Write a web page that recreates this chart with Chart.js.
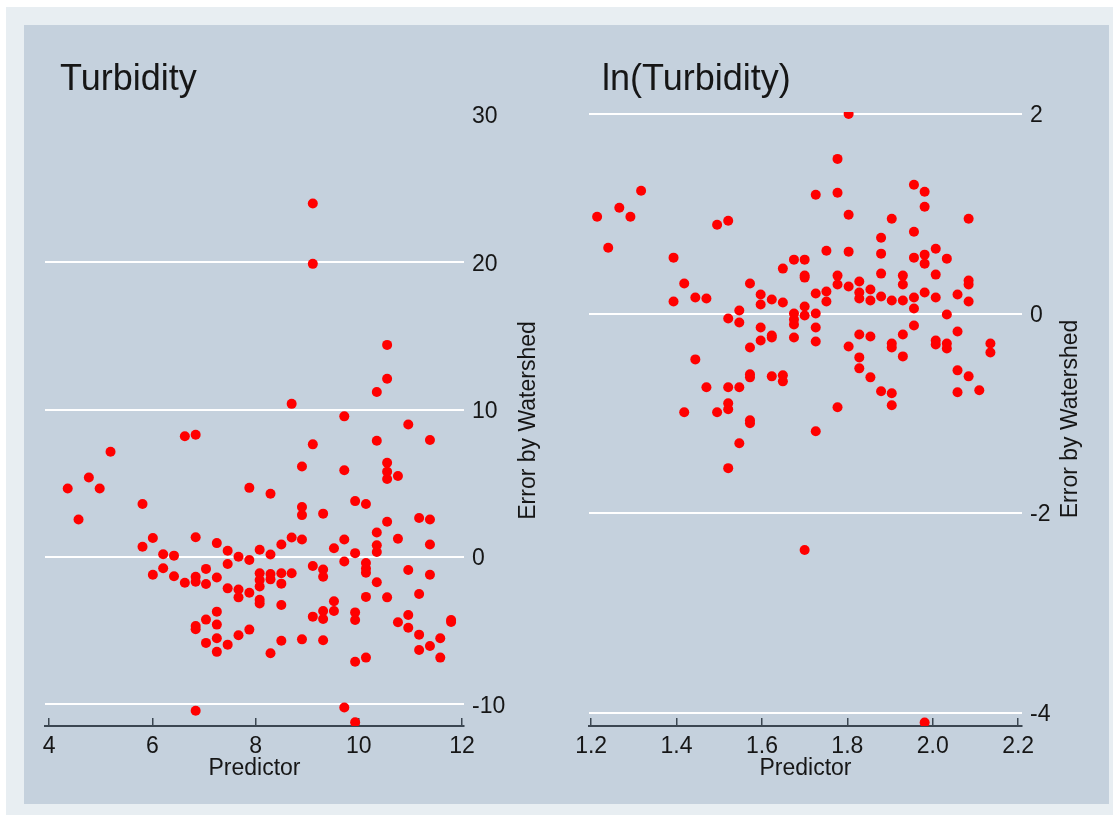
<!DOCTYPE html>
<html>
<head>
<meta charset="utf-8">
<script src="https://cdn.jsdelivr.net/npm/chart.js@4.4.1/dist/chart.umd.min.js"></script>
<style>
  html, body { margin: 0; padding: 0; background: #ffffff; }
  #frame { position: absolute; left: 6px; top: 7px; width: 1107px; height: 808px; background: #e8eef2; }
  #panel { position: absolute; left: 24px; top: 25px; width: 1085px; height: 779px; background: #c5d1dd; }
  canvas { position: absolute; top: 25px; }
  #turbidity { left: 24px; }
  #lnTurbidity { left: 560px; }
</style>
</head>
<body>
<div id="frame"></div>
<div id="panel"></div>
<canvas id="turbidity" width="536" height="779"></canvas>
<canvas id="lnTurbidity" width="548" height="779"></canvas>
<script>
// residuals for raw turbidity
var turbX = [
  8.70, 9.72, 10.96, 6.63, 6.84, 9.11, 10.35, 11.38, 5.19, 8.90,
  9.72, 10.55, 10.55, 10.55, 10.76, 4.77, 4.36, 4.98, 7.88, 8.29,
  5.81, 9.93, 10.14, 8.90, 8.90, 9.31, 4.57, 11.17, 11.38, 10.55,
  9.11, 9.11, 10.55, 10.55, 10.35, 6.01, 5.81, 6.84, 7.25, 7.46,
  6.21, 6.42, 7.67, 7.88, 8.08, 8.29, 8.50, 8.70, 8.90, 9.52,
  9.72, 9.93, 9.72, 10.35, 10.35, 10.35, 10.76, 11.38, 10.14, 10.14,
  10.14, 10.35, 10.96, 11.38, 9.11, 9.31, 9.31, 7.46, 7.04, 7.25,
  6.21, 6.01, 6.42, 6.63, 6.84, 6.84, 7.04, 7.46, 7.67, 7.67,
  7.88, 8.08, 8.08, 8.08, 8.29, 8.29, 8.50, 8.50, 8.70, 8.08,
  8.08, 8.50, 9.52, 10.14, 10.55, 11.17, 7.25, 7.04, 6.84, 6.84,
  7.25, 7.88, 7.67, 7.25, 7.04, 7.46, 7.25, 8.29, 8.50, 8.90,
  9.31, 9.11, 9.31, 9.31, 9.52, 9.93, 9.93, 10.76, 10.96, 10.96,
  11.17, 11.38, 11.17, 11.58, 11.58, 11.79, 11.79, 9.93, 10.14, 6.84,
  9.72, 9.93
];
var turbY = [
  10.4, 9.55, 9.0, 8.2, 8.3, 7.65, 7.9, 7.95, 7.15, 6.15,
  5.9, 6.4, 5.8, 5.3, 5.5, 5.4, 4.65, 4.65, 4.7, 4.3,
  3.6, 3.8, 3.6, 3.4, 2.85, 2.95, 2.55, 2.65, 2.55, 2.4,
  24.0, 19.9, 14.4, 12.1, 11.2, 1.3, 0.7, 1.35, 0.95, 0.43,
  0.2, 0.1, 0.02, -0.2, 0.5, 0.18, 0.85, 1.33, 1.2, 0.6,
  1.2, 0.27, -0.3, 1.67, 0.8, 0.35, 1.25, 0.86, -0.4, -0.77,
  -1.06, -1.7, -0.88, -1.2, -0.6, -0.84, -1.33, -0.47, -0.8, -1.38,
  -0.75, -1.2, -1.3, -1.74, -1.33, -1.67, -1.83, -2.12, -2.2, -2.73,
  -2.42, -1.1, -1.56, -2.0, -1.15, -1.51, -1.1, -1.8, -1.1, -2.9,
  -3.14, -3.25, -3.0, -2.7, -2.73, -2.5, -3.7, -4.24, -4.67, -4.9,
  -4.58, -4.92, -5.3, -5.5, -5.82, -5.94, -6.43, -6.52, -5.67, -5.58,
  -5.64, -4.04, -3.66, -4.2, -3.66, -3.75, -4.27, -4.42, -3.93, -4.79,
  -5.26, -6.03, -6.3, -5.5, -6.82, -4.27, -4.4, -7.1, -6.82, -10.43,
  -10.2, -11.2
];

// residuals for log turbidity
var lnX = [
  1.803, 1.777, 1.317, 1.266, 1.214, 1.292, 1.240, 1.495, 1.521, 1.726,
  1.777, 1.803, 1.956, 1.981, 1.981, 1.904, 2.084, 1.956, 1.879, 1.393,
  1.751, 1.803, 1.879, 2.007, 1.981, 1.981, 1.956, 2.033, 1.649, 1.675,
  1.700, 1.700, 1.700, 1.418, 1.572, 1.393, 1.444, 1.470, 1.597, 1.597,
  1.623, 1.649, 1.726, 1.751, 1.751, 1.777, 1.777, 1.803, 1.828, 1.828,
  1.828, 1.854, 1.854, 1.879, 1.879, 1.904, 1.930, 1.930, 1.930, 1.956,
  1.956, 1.981, 2.007, 2.007, 2.058, 2.084, 2.084, 2.084, 1.521, 1.547,
  1.547, 1.675, 1.675, 1.675, 1.700, 1.700, 1.726, 1.726, 2.033, 1.956,
  1.597, 2.058, 1.597, 1.623, 1.623, 1.572, 1.675, 1.726, 1.803, 1.828,
  1.854, 1.904, 1.904, 1.930, 1.930, 2.007, 2.007, 2.033, 2.033, 2.135,
  2.135, 1.444, 1.828, 1.828, 1.854, 2.058, 2.084, 1.572, 1.572, 1.623,
  1.649, 1.649, 1.470, 1.521, 1.547, 1.879, 1.904, 2.058, 2.109, 1.418,
  1.495, 1.521, 1.521, 1.572, 1.572, 1.547, 1.726, 1.777, 1.904, 1.521,
  1.700, 1.981
];
var lnY = [
  2.0, 1.55, 1.23, 1.06, 0.97, 0.97, 0.66, 0.89, 0.93, 1.19,
  1.21, 0.99, 1.29, 1.22, 1.07, 0.95, 0.95, 0.82, 0.76, 0.56,
  0.63, 0.62, 0.60, 0.65, 0.59, 0.50, 0.56, 0.55, 0.45, 0.54,
  0.54, 0.38, 0.36, 0.30, 0.30, 0.12, 0.16, 0.15, 0.19, 0.09,
  0.14, 0.11, 0.20, 0.22, 0.12, 0.38, 0.29, 0.27, 0.32, 0.21,
  0.15, 0.24, 0.13, 0.40, 0.17, 0.13, 0.38, 0.29, 0.13, 0.16,
  0.05, 0.21, 0.39, 0.16, 0.19, 0.33, 0.29, 0.12, -0.05, 0.03,
  -0.09, 0.0, -0.06, -0.11, 0.07, -0.02, 0.0, -0.14, -0.01, -0.12,
  -0.14, -0.18, -0.27, -0.22, -0.24, -0.34, -0.24, -0.28, -0.33, -0.21,
  -0.23, -0.30, -0.34, -0.21, -0.43, -0.27, -0.31, -0.30, -0.35, -0.30,
  -0.39, -0.46, -0.44, -0.55, -0.64, -0.57, -0.63, -0.61, -0.64, -0.63,
  -0.62, -0.68, -0.74, -0.74, -0.74, -0.78, -0.80, -0.79, -0.77, -0.99,
  -0.99, -0.90, -0.96, -1.07, -1.10, -1.30, -1.18, -0.94, -0.92, -1.55,
  -2.37, -4.10
];

var turbXTicks = [4, 6, 8, 10, 12];
var turbYTicks = [-10, 0, 10, 20, 30];
var lnXTicks = [1.2, 1.4, 1.6, 1.8, 2, 2.2];
var lnYTicks = [-4, -2, 0, 2];

var axisColor = '#3b4651';
var textColor = '#161616';
var fontFamily = '"Liberation Sans", Arial, sans-serif';

function pairs( xs, ys ){
    return xs.map(function( x, i ){ return { x: x, y: ys[i] }; });
}

function fixedTicks( values ){
    return function( scale ){
        scale.ticks = values.map(function( v ){ return { value: v }; });
    };
}

// panel heading and the right-hand axis title (reads bottom to top)
var panelText = {
    id: 'panelText',
    afterDraw: function( chart, args, opts ){
        var ctx = chart.ctx;
        var area = chart.chartArea;
        ctx.save();
        ctx.fillStyle = textColor;
        ctx.font = '36px ' + fontFamily;
        ctx.textAlign = 'left';
        ctx.textBaseline = 'alphabetic';
        ctx.fillText( opts.title, opts.titleX, opts.titleY );

        ctx.font = '23px ' + fontFamily;
        ctx.translate( opts.sideX, (area.top + area.bottom) / 2 );
        ctx.rotate( -Math.PI / 2 );
        ctx.textAlign = 'center';
        ctx.textBaseline = 'middle';
        ctx.fillText( opts.side, 0, 0 );
        ctx.restore();
    }
};

function residualPlot( id, cfg ){
    var ctx = document.getElementById( id ).getContext( '2d' );
    return new Chart( ctx, {
        type: 'scatter',
        data: {
            datasets: [{
                data: pairs( cfg.xs, cfg.ys ),
                backgroundColor: '#ff0000',
                borderWidth: 0,
                pointRadius: 5,
                pointHoverRadius: 5,
                clip: 0
            }]
        },
        options: {
            responsive: false,
            devicePixelRatio: 1,
            animation: false,
            layout: { padding: cfg.padding },
            plugins: {
                legend: { display: false },
                tooltip: { enabled: false },
                panelText: cfg.text
            },
            scales: {
                x: {
                    type: 'linear',
                    position: 'bottom',
                    min: cfg.xMin,
                    max: cfg.xMax,
                    afterBuildTicks: fixedTicks( cfg.xTicks ),
                    afterFit: function( s ){ s.height = 78; },
                    border: { display: true, color: axisColor, width: 2 },
                    grid: {
                        drawOnChartArea: false,
                        drawTicks: true,
                        tickLength: -8,
                        color: axisColor,
                        lineWidth: 1.5
                    },
                    ticks: {
                        padding: 15,
                        color: textColor,
                        font: { family: fontFamily, size: 23 },
                        maxRotation: 0,
                        autoSkip: false
                    },
                    title: {
                        display: true,
                        text: 'Predictor',
                        color: textColor,
                        font: { family: fontFamily, size: 23 },
                        padding: { top: 0, bottom: 22 }
                    }
                },
                y: {
                    type: 'linear',
                    position: 'right',
                    min: cfg.yMin,
                    max: cfg.yMax,
                    afterBuildTicks: fixedTicks( cfg.yTicks ),
                    afterFit: function( s ){ s.width = cfg.yWidth; },
                    border: { display: false },
                    grid: {
                        drawTicks: false,
                        lineWidth: 2,
                        color: function( c ){
                            return c.tick && c.tick.value === c.scale.max ? 'rgba(0,0,0,0)' : '#ffffff';
                        }
                    },
                    ticks: {
                        padding: 8,
                        labelOffset: 2,
                        color: textColor,
                        font: { family: fontFamily, size: 23 },
                        autoSkip: false
                    }
                }
            }
        },
        plugins: [ panelText ]
    });
}

residualPlot( 'turbidity', {
    xs: turbX, ys: turbY,
    xTicks: turbXTicks, yTicks: turbYTicks,
    xMin: 3.92, xMax: 12.04,
    yMin: -11.46, yMax: 30,
    yWidth: 96,
    padding: { left: 21, top: 90, right: 0, bottom: 0 },
    text: { title: 'Turbidity', titleX: 36, titleY: 65, side: 'Error by Watershed', sideX: 505 }
});

residualPlot( 'lnTurbidity', {
    xs: lnX, ys: lnY,
    xTicks: lnXTicks, yTicks: lnYTicks,
    xMin: 1.195, xMax: 2.209,
    yMin: -4.135, yMax: 2.02,
    yWidth: 86,
    padding: { left: 29, top: 87, right: 0, bottom: 0 },
    text: { title: 'ln(Turbidity)', titleX: 42, titleY: 65, side: 'Error by Watershed', sideX: 511 }
});
</script>
</body>
</html>
